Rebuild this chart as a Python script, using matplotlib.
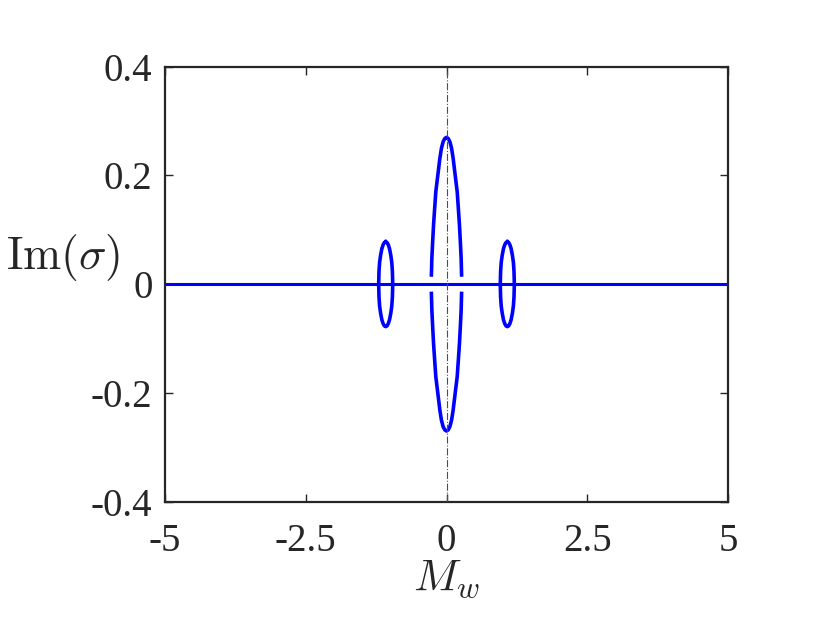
import numpy as np
import matplotlib
matplotlib.use("Agg")
import matplotlib.pyplot as plt

plt.rcParams['font.family'] = ['Liberation Serif', 'DejaVu Serif']
plt.rcParams['mathtext.fontset'] = 'cm'

# ---- data ----
# central lobe, upper-right quadrant (Mw, Im(sigma)); symmetric about both axes
central_x = [0.0, 0.03, 0.06, 0.09, 0.118, 0.15, 0.19, 0.21, 0.23, 0.245, 0.26, 0.268]
central_y = [0.27, 0.268, 0.262, 0.25, 0.2315, 0.204, 0.17, 0.14, 0.109, 0.08, 0.048, 0.017]
# side lobes: centres and quarter-shape offsets (dMw, Im(sigma))
side_centres = [-1.08, 1.08]
side_dx = [0.0, 0.023, 0.045, 0.068, 0.09, 0.108, 0.119, 0.125]
side_dy = [0.078, 0.0767, 0.0727, 0.0654, 0.0535, 0.0403, 0.0237, 0.0]
# real-sigma branch along Im = 0
flat_x = [-5.0, 5.0]
flat_y = [0.0, 0.0]

xticks = [-5, -2.5, 0, 2.5, 5]
xticklabels = ['-5', '-2.5', '0', '2.5', '5']
yticks = [-0.4, -0.2, 0, 0.2, 0.4]
yticklabels = ['-0.4', '-0.2', '0', '0.2', '0.4']

blue = (0, 0, 1)
dark = '#262626'

fig = plt.figure(figsize=(8.30, 6.24), dpi=100)
ax = fig.add_axes([165/830, 1 - 501.7/624, 563/830, 435/624])

cx = np.array(central_x)
cy = np.array(central_y)
# upper arc (left -> top -> right) and lower arc
arc_x = np.concatenate([-cx[::-1], cx[1:]])
arc_y = np.concatenate([cy[::-1], cy[1:]])
ax.plot(arc_x, arc_y, color=blue, lw=2.6)
ax.plot(arc_x, -arc_y, color=blue, lw=2.6)

sdx = np.array(side_dx)
sdy = np.array(side_dy)
# closed loop: top -> right -> bottom -> left -> top
loop_x = np.concatenate([sdx, sdx[::-1][1:], -sdx[1:], -sdx[::-1][1:]])
loop_y = np.concatenate([sdy, -sdy[::-1][1:], -sdy[1:], sdy[::-1][1:]])
for c in side_centres:
    ax.plot(c + loop_x, loop_y, color=blue, lw=2.6)

ax.plot(flat_x, flat_y, color=blue, lw=2.2)

ax.axvline(0, color='0.3', lw=0.8, ls='-.', zorder=5)

ax.set_xlim(-5, 5)
ax.set_ylim(-0.4, 0.4)
ax.set_xticks(xticks)
ax.set_xticklabels(xticklabels)
ax.set_yticks(yticks)
ax.set_yticklabels(yticklabels)
ax.tick_params(direction='in', length=5.5, width=1.0, colors=dark,
               labelsize=28, top=True, right=True, labelcolor=dark)
ax.tick_params(axis='x', pad=15)
ax.tick_params(axis='y', pad=9)
for s in ax.spines.values():
    s.set_linewidth(1.6)
    s.set_color(dark)

ax.set_xlabel(r'$M_w$', fontsize=32, color=dark, ha='center', va='center')
ax.xaxis.set_label_coords(0.5, -0.178)
ax.set_ylabel(r'$\mathrm{Im}(\sigma)$', fontsize=33, rotation=0,
              color=dark, ha='center', va='center')
ax.yaxis.set_label_coords(-0.181, 0.5625)

fig.savefig('out.png', dpi=100)
